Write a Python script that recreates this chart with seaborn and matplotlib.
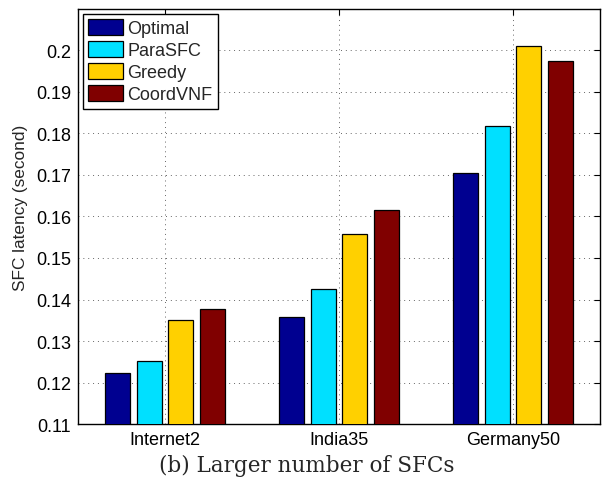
import matplotlib
matplotlib.use("Agg")
import matplotlib.pyplot as plt
import seaborn as sns
import pandas as pd

topologies = ["Internet2", "India35", "Germany50"]
methods = ["Optimal", "ParaSFC", "Greedy", "CoordVNF"]
optimal = [0.1224, 0.1357, 0.1704]
parasfc = [0.1252, 0.1425, 0.1818]
greedy = [0.1350, 0.1559, 0.2010]
coordvnf = [0.1378, 0.1616, 0.1975]
colors = ["#000090", "#00E0FF", "#FFD000", "#800000"]
yticks = [0.11, 0.12, 0.13, 0.14, 0.15, 0.16, 0.17, 0.18, 0.19, 0.2]
ytick_labels = ["0.11", "0.12", "0.13", "0.14", "0.15", "0.16", "0.17", "0.18", "0.19", "0.2"]

rows = []
for m, vals in zip(methods, [optimal, parasfc, greedy, coordvnf]):
    for t, v in zip(topologies, vals):
        rows.append({"Topology": t, "Method": m, "Latency": v})
df = pd.DataFrame(rows)

sns.set_style("white")
plt.rcParams["font.family"] = ["Liberation Sans", "DejaVu Sans"]

fig = plt.figure(figsize=(6.02, 4.85), dpi=100)
ax = fig.add_axes([0.1296, 0.1237, 0.8671, 0.8557])

sns.barplot(data=df, x="Topology", y="Latency", hue="Method", order=topologies,
            hue_order=methods, palette=colors, saturation=1, width=0.727, gap=0.2,
            edgecolor="black", linewidth=0.9, ax=ax, errorbar=None, zorder=3)

ax.set_ylim(0.11, 0.21)
ax.set_xlim(-0.5, 2.5)
ax.set_yticks(yticks)
ax.set_yticklabels(ytick_labels)
ax.set_xlabel("")
ax.set_ylabel("SFC latency (second)", fontsize=12.4, va="center")
ax.yaxis.set_label_coords(-0.111, 0.524)
ax.tick_params(axis="both", direction="in", top=True, right=True, length=4,
               width=0.8, labelsize=13, colors="black", pad=5)
ax.grid(True, linestyle=(0, (1, 4)), color="#666666", linewidth=0.7, zorder=0)
ax.set_axisbelow(True)
for s in ax.spines.values():
    s.set_visible(True)
    s.set_color("black")
    s.set_linewidth(1.0)

leg = ax.legend(loc="upper left", bbox_to_anchor=(0.0096, 0.988), fontsize=13,
                frameon=True, fancybox=False, edgecolor="black", framealpha=1,
                handlelength=1.9, handleheight=0.95, handletextpad=0.25,
                labelspacing=0.22, borderpad=0.3, borderaxespad=0.0)
leg.get_frame().set_linewidth(1.0)

fig.text(0.51, 0.04, "(b) Larger number of SFCs", ha="center", va="center",
         fontsize=15.5, family=["DejaVu Serif", "Liberation Serif"])

fig.savefig("out.png", dpi=100)
